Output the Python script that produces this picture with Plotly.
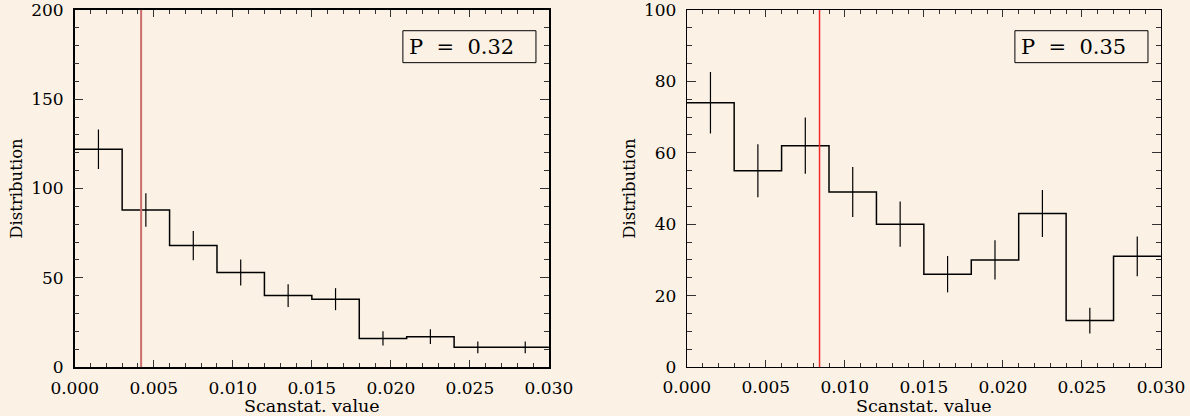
import numpy as np
import plotly.graph_objects as go

# ---- data ----
bin_edges = [0.000, 0.003, 0.006, 0.009, 0.012, 0.015, 0.018, 0.021, 0.024, 0.027, 0.030]
left_counts = [122, 88, 68, 53, 40, 38, 16, 17, 11, 11]
right_counts = [74, 55, 62, 49, 40, 26, 30, 43, 13, 31]
left_marker = 0.0042
right_marker = 0.0084
left_label = "P  =  0.32"
right_label = "P  =  0.35"
x_ticks = [0.000, 0.005, 0.010, 0.015, 0.020, 0.025, 0.030]
x_ticktext = ["0.000", "0.005", "0.010", "0.015", "0.020", "0.025", "0.030"]

BG = "rgb(251,242,229)"
FONT = "DejaVu Serif"

fig = go.Figure()

def add_panel(counts, xa, ya, marker, ymax, red_col, red_w):
    edges = bin_edges
    centers = [(edges[i] + edges[i + 1]) / 2 for i in range(len(counts))]
    ystep = list(counts) + [counts[-1]]
    fig.add_trace(go.Scatter(x=edges, y=ystep, mode="lines", line=dict(shape="hv", color="black", width=1.5),
                             xaxis=xa, yaxis=ya, showlegend=False, hoverinfo="skip"))
    fig.add_trace(go.Scatter(x=centers, y=counts, mode="markers", marker=dict(size=0.1, color="black", opacity=0),
                             error_y=dict(type="data", array=list(np.sqrt(counts)), width=0, thickness=1.2, color="black"),
                             xaxis=xa, yaxis=ya, showlegend=False, hoverinfo="skip"))
    fig.add_trace(go.Scatter(x=[marker, marker], y=[0, ymax], mode="lines", line=dict(color=red_col, width=red_w),
                             xaxis=xa, yaxis=ya, showlegend=False, hoverinfo="skip"))

add_panel(left_counts, "x", "y", left_marker, 200, "rgb(205,108,108)", 2)
add_panel(right_counts, "x2", "y2", right_marker, 100, "rgb(240,40,40)", 1.5)

def xaxis_cfg(domain, lw, anchor):
    return dict(domain=domain, range=[0, 0.030], tickvals=x_ticks, ticktext=x_ticktext, anchor=anchor,
                ticks="inside", ticklen=7, tickwidth=1, tickcolor="#333", automargin=False,
                ticklabeloverflow="allow",
                minor=dict(dtick=0.001, ticks="inside", ticklen=4, tickcolor="#333", tickwidth=1, showgrid=False),
                showline=True, linecolor="black", linewidth=lw, mirror="allticks",
                showgrid=False, zeroline=False, ticklabelstandoff=5,
                tickfont=dict(family=FONT, size=17, color="black"),
                title=dict(text="Scanstat. value", font=dict(family=FONT, size=17.5, color="black"), standoff=4))

def yaxis_cfg(rng, dtick, minor, lw, anchor):
    return dict(domain=[0, 1], range=rng, dtick=dtick, anchor=anchor, automargin=False,
                ticklabeloverflow="allow",
                ticks="inside", ticklen=9, tickwidth=1, tickcolor="#333",
                minor=dict(dtick=minor, ticks="inside", ticklen=5, tickcolor="#333", tickwidth=1, showgrid=False),
                showline=True, linecolor="black", linewidth=lw, mirror="allticks",
                showgrid=False, zeroline=False, ticklabelstandoff=6,
                tickfont=dict(family=FONT, size=17, color="black"),
                title=dict(text="Distribution", font=dict(family=FONT, size=16.5, color="black"), standoff=4))

fig.update_layout(
    width=1190, height=416,
    paper_bgcolor=BG, plot_bgcolor=BG,
    margin=dict(l=0, r=0, t=10, b=49, autoexpand=False),
    xaxis=xaxis_cfg([0.0628, 0.4613], 1.5, "y"),
    yaxis=yaxis_cfg([0, 200], 50, 10, 1.5, "x"),
    xaxis2=xaxis_cfg([0.5771, 0.9756], 1, "y2"),
    yaxis2=yaxis_cfg([0, 100], 20, 5, 1, "x2"),
)

for xr, yr, label in [("x domain", "y domain", left_label), ("x2 domain", "y2 domain", right_label)]:
    fig.add_shape(type="rect", xref=xr, yref=yr, x0=0.692, x1=0.9726, y0=0.8525, y1=0.942,
                  line=dict(color="black", width=1), fillcolor="rgba(0,0,0,0)")
    fig.add_annotation(xref=xr, yref=yr, x=0.700, y=0.897, xanchor="left", yanchor="middle",
                       text=label, showarrow=False, font=dict(family=FONT, size=21, color="black"))

fig.write_html("out.html", config={"displayModeBar": False},
               post_script="document.body.style.margin='0';document.body.style.background='" + BG + "';")
